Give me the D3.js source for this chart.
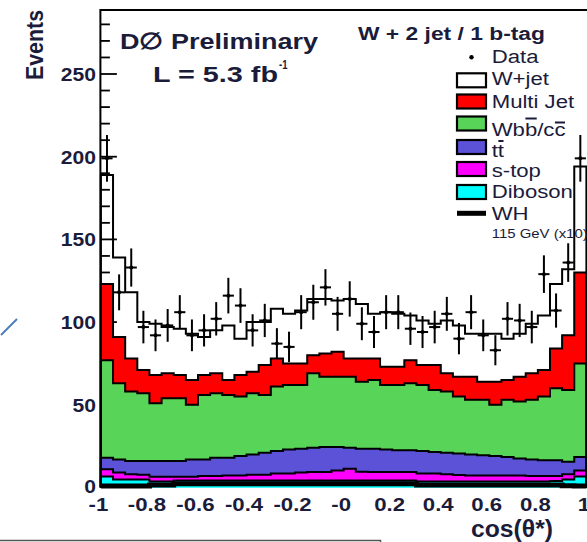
<!DOCTYPE html>
<html>
<head>
<meta charset="utf-8">
<script src="https://cdn.jsdelivr.net/npm/d3@7/dist/d3.min.js"></script>
<style>
  body { margin: 0; background: #fff; }
  svg { display: block; }
  text { font-family: "Liberation Sans", Arial, Helvetica, sans-serif; fill: #1b1b3a; }
</style>
</head>
<body>
<svg id="chart" width="587" height="542"></svg>
<script>
// cos(theta*) histogram, 40 bins from -1 to 1
const binLow = -1, binWidth = 0.05, nBins = 40;

// Stacked background components (events per bin)
const diboson = [6.6,4.8,4.8,4.8,3.6,3.6,4.2,4.2,4.2,4.2,4.2,4.2,4.2,4.2,4.2,4.2,4.2,4.2,4.2,4.2,
                 4.2,4.2,4.2,4.2,4.2,4.2,3.6,3.6,3.6,3.6,3.6,3.6,3.6,3.6,3.6,3.6,3.6,4.0,4.8,6.6];
const stop    = [4.4,4.2,3.2,2.9,2.9,2.9,2.3,2.3,2.8,2.8,3.1,3.1,3.5,3.5,4.3,4.3,4.8,5.1,5.1,6.1,
                 7.2,5.3,5.1,5.1,5.1,5.1,4.9,4.9,4.4,3.9,3.7,3.7,3.7,3.7,3.7,3.4,3.4,3.0,3.2,3.7];
const ttbar   = [7,8,8,8.3,9.5,9.5,9.5,10.5,10,11,10.7,11.7,12.3,13.3,13.5,14.5,14.5,14.7,15.2,14.2,
                 12.6,14,14.2,13.7,13.2,13.2,13.5,13,13,13,12.7,12.2,11.7,11.2,10.2,10,9.5,9.5,7.5,8.2];
const wbb     = [59,46,42,41,35,38,38,33,39,39,38,36,37,35,39,39,38.5,45,42.5,42.5,
                 43,40.5,41.5,39,39.5,40.5,40,37.5,37,34.5,33,33.5,31,34.5,34.5,36,38.5,43.5,43.5,56.5];
const multijet= [46,28,20,14,17,15,14,15,12,12,9,13,13,18,17,13,13,11,14,15,
                 11,14,13,11,11,14,12,15,11,12,14,11,14,12,15,16,16,24,33,55];
const wjets   = [66,48,40,29,31,28,28,28,23,26,33,22,30,26,30,30,32,34,33,31,
                 36,33,27,33,32,27,27,25,32,31,26,29,29,25,26,30,33,39,40,64];

// WH (115 GeV) signal scaled by 10
const whx10   = [0.9,0.9,0.9,0.9,1.5,1.5,2.2,2.2,2.2,2.2,2.2,2.2,2.2,2.2,2.2,2.2,2.2,2.2,2.2,2.2,
                 2.2,2.2,2.2,2.2,2.2,2.2,1.5,1.5,1.5,1.5,1.5,1.5,1.5,1.5,1.5,1.5,1.5,1.5,1.0,0.9];

// Observed data
const dataCounts = [199,118,133,97,92,98,106,92,95,102,116,110,95,101,87,85,106,112,121,105,
                    114,99,94,106,106,96,94,97,105,90,106,92,83,102,101,97,129,107,136,199];

const xTickValues = [-1,-0.8,-0.6,-0.4,-0.2,0,0.2,0.4,0.6,0.8,1];
const xTickLabels = ["-1","-0.8","-0.6","-0.4","-0.2","-0","0.2","0.4","0.6","0.8","1"];
const yTickValues = [0,50,100,150,200,250];
const yMinorStep = 10, yMax = 280;

const keys = ["diboson","stop","ttbar","wbb","multijet","wjets"];
const colors = {diboson:"#00ffff", stop:"#ff00ff", ttbar:"#5b52d8", wbb:"#58d558", multijet:"#ff0000", wjets:"none"};
const legendItems = [
  {key:"wjets",    label:"W+jet"},
  {key:"multijet", label:"Multi Jet"},
  {key:"wbb",      label:"Wbb/cc"},
  {key:"ttbar",    label:"tt"},
  {key:"stop",     label:"s-top"},
  {key:"diboson",  label:"Diboson"}
];

const svg = d3.select("#chart");
const x = d3.scaleLinear().domain([-1, 1]).range([100.9, 586.4]);
const y = d3.scaleLinear().domain([0, 250]).range([487.5, 74]);
const frameTop = 10;

function stretch(sel, sx) {
  sel.each(function () {
    const w = this.getComputedTextLength();
    d3.select(this).attr("textLength", w * sx).attr("lengthAdjust", "spacingAndGlyphs");
  });
  return sel;
}

// frame (left and top edges)
svg.append("path")
  .attr("d", `M${x(-1) - 0.5},${y(0)}V${frameTop}H${590}`)
  .attr("fill", "none").attr("stroke", "#000").attr("stroke-width", 2);

// y-axis ticks (drawn under the filled histograms)
const minorTicks = d3.range(yMinorStep, yMax + 1, yMinorStep).filter(v => v % 50 !== 0);
svg.append("g").selectAll("line.minor").data(minorTicks).join("line")
  .attr("x1", x(-1)).attr("x2", x(-1) + 9)
  .attr("y1", d => y(d)).attr("y2", d => y(d))
  .attr("stroke", "#000").attr("stroke-width", 1.8);
svg.append("g").selectAll("line.major").data(yTickValues.filter(v => v > 0)).join("line")
  .attr("x1", x(-1)).attr("x2", x(-1) + 16)
  .attr("y1", d => y(d)).attr("y2", d => y(d))
  .attr("stroke", "#000").attr("stroke-width", 1.8);

// stacked backgrounds
const rows = d3.range(nBins).map(i => ({
  diboson: diboson[i], stop: stop[i], ttbar: ttbar[i], wbb: wbb[i], multijet: multijet[i], wjets: wjets[i]
}));
const series = d3.stack().keys(keys)(rows);

function stepPoints(s) {
  const pts = s.map((d, i) => ({edge: binLow + i * binWidth, y0: d[0], y1: d[1]}));
  pts.push({edge: binLow + nBins * binWidth, y0: s[nBins - 1][0], y1: s[nBins - 1][1]});
  return pts;
}
const area = d3.area().curve(d3.curveStepAfter)
  .x(d => x(d.edge)).y0(d => y(d.y0)).y1(d => y(d.y1));
const contour = d3.line().curve(d3.curveStepAfter)
  .x(d => x(d.edge)).y(d => y(d.v));

const gHist = svg.append("g");
series.forEach(s => {
  if (colors[s.key] === "none") return;
  gHist.append("path").attr("d", area(stepPoints(s)))
    .attr("fill", colors[s.key]).attr("stroke", colors[s.key]).attr("stroke-width", 0.5);
});
series.forEach(s => {
  const pts = stepPoints(s).map(p => ({edge: p.edge, v: p.y1}));
  const line = [{edge: -1, v: 0}, ...pts, {edge: 1, v: 0}];
  gHist.append("path").attr("d", contour(line))
    .attr("fill", "none").attr("stroke", "#000").attr("stroke-width", 2);
});

// WH signal (x10) as a thick line
const whPts = whx10.map((v, i) => ({edge: binLow + i * binWidth, v}));
whPts.push({edge: 1, v: whx10[nBins - 1]});
svg.append("path").attr("d", contour(whPts))
  .attr("fill", "none").attr("stroke", "#000").attr("stroke-width", 5);

// data points with statistical error bars
const gData = svg.append("g").attr("stroke", "#000").attr("stroke-width", 2);
dataCounts.forEach((n, i) => {
  const lo = binLow + i * binWidth, hi = lo + binWidth, c = lo + binWidth / 2;
  const e = Math.sqrt(n);
  gData.append("line").attr("x1", x(c)).attr("x2", x(c)).attr("y1", y(n - e)).attr("y2", y(n + e));
  gData.append("line").attr("x1", x(lo) + 0.5).attr("x2", x(hi) - 0.5).attr("y1", y(n)).attr("y2", y(n));
  gData.append("circle").attr("cx", x(c)).attr("cy", y(n)).attr("r", 2).attr("fill", "#000").attr("stroke", "none");
});

// axis labels
stretch(svg.append("g").selectAll("text").data(xTickValues).join("text")
  .attr("x", d => x(d) - 2.5).attr("y", 510.5)
  .attr("text-anchor", "middle").attr("font-size", 18.5).attr("font-weight", "bold")
  .text((d, i) => xTickLabels[i]), 1.2);
stretch(svg.append("g").selectAll("text").data(yTickValues).join("text")
  .attr("x", 96).attr("y", d => y(d) + (d === 0 ? 5.5 : 7))
  .attr("text-anchor", "end").attr("font-size", 18.5).attr("font-weight", "bold")
  .text(d => d), 1.14);

svg.append("text").attr("x", 512).attr("y", 536.5)
  .attr("text-anchor", "middle").attr("font-size", 23).attr("font-weight", "bold")
  .attr("textLength", 82).attr("lengthAdjust", "spacingAndGlyphs")
  .text("cos(θ*)");

svg.append("text").attr("transform", "translate(43,45) scale(1.15,1) rotate(-90)")
  .attr("text-anchor", "middle").attr("font-size", 20).attr("font-weight", "bold")
  .attr("textLength", 70).attr("lengthAdjust", "spacingAndGlyphs")
  .text("Events");

// experiment label
svg.append("text").attr("x", 120).attr("y", 48.5)
  .attr("font-size", 22.5).attr("font-weight", "bold")
  .attr("textLength", 198).attr("lengthAdjust", "spacingAndGlyphs")
  .text("D∅ Preliminary");
svg.append("text").attr("x", 153).attr("y", 81.5)
  .attr("font-size", 22.5).attr("font-weight", "bold")
  .attr("textLength", 125).attr("lengthAdjust", "spacingAndGlyphs")
  .text("L = 5.3 fb");
svg.append("text").attr("x", 279).attr("y", 69)
  .attr("font-size", 13).attr("font-weight", "bold")
  .attr("textLength", 8.5).attr("lengthAdjust", "spacingAndGlyphs")
  .text("-1");

// legend
const lg = svg.append("g");
lg.append("text").attr("x", 358).attr("y", 40)
  .attr("font-size", 17.5).attr("font-weight", "bold")
  .attr("textLength", 187).attr("lengthAdjust", "spacingAndGlyphs")
  .text("W + 2 jet / 1 b-tag");

const boxX = 457, boxW = 29, boxH = 14, textX = 491.7;
lg.append("circle").attr("cx", boxX + boxW / 2).attr("cy", 57.3).attr("r", 2.2).attr("fill", "#000");
stretch(lg.append("text").attr("x", textX).attr("y", 63.3).attr("font-size", 18).text("Data"), 1.23);

const boxTops = [73.3, 94.5, 116.5, 140, 162, 185];
const textBase = [85, 108.3, 136, 156.8, 177, 198.3];
const legendText = [];
legendItems.forEach((it, i) => {
  lg.append("rect").attr("x", boxX).attr("y", boxTops[i]).attr("width", boxW).attr("height", boxH)
    .attr("fill", colors[it.key] === "none" ? "#fff" : colors[it.key])
    .attr("stroke", "#000").attr("stroke-width", 2.2);
  const t = lg.append("text").attr("x", textX).attr("y", textBase[i]).attr("font-size", 18).text(it.label);
  stretch(t, 1.23);
  legendText.push(t);
});

// anti-quark bars
function overbar(t, idx, yBar) {
  const ext = t.node().getExtentOfChar(idx);
  lg.append("line").attr("x1", ext.x + 0.5).attr("x2", ext.x + ext.width - 0.5)
    .attr("y1", yBar).attr("y2", yBar).attr("stroke", "#1b1b3a").attr("stroke-width", 2);
}
overbar(legendText[2], 2, 118.5);
overbar(legendText[2], 5, 122.5);
overbar(legendText[3], 1, 141);

lg.append("line").attr("x1", boxX).attr("x2", boxX + boxW).attr("y1", 213.3).attr("y2", 213.3)
  .attr("stroke", "#000").attr("stroke-width", 5);
stretch(lg.append("text").attr("x", textX).attr("y", 220).attr("font-size", 18).text("WH"), 1.23);
lg.append("text").attr("x", textX).attr("y", 238.3).attr("font-size", 12)
  .attr("textLength", 96).attr("lengthAdjust", "spacingAndGlyphs")
  .text("115 GeV (x10)");

// page decorations around the plot
svg.append("path").attr("d", "M0,540.5H380.5V542").attr("fill", "none").attr("stroke", "#555").attr("stroke-width", 1.5);
svg.append("path").attr("d", "M1,335L17,319").attr("fill", "none").attr("stroke", "#4a7ebb").attr("stroke-width", 2);
</script>
</body>
</html>
